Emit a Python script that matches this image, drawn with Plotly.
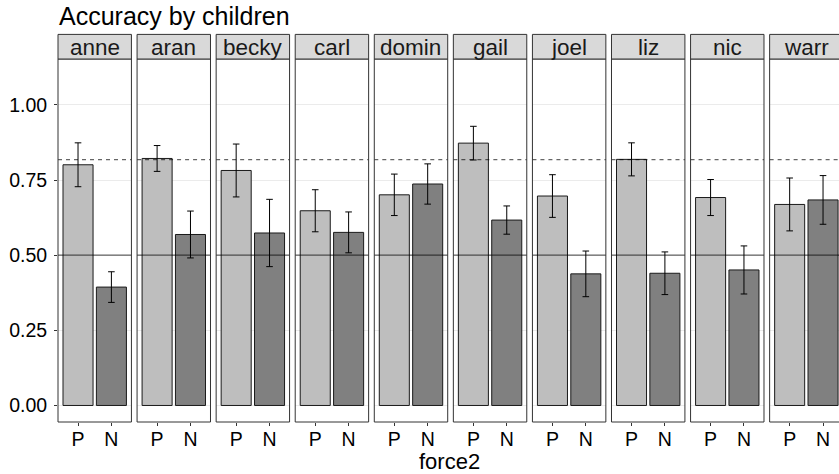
import plotly.graph_objects as go

children = ["anne", "aran", "becky", "carl", "domin", "gail", "joel", "liz", "nic", "warr"]
force_levels = ["P", "N"]
acc_P = [0.801, 0.822, 0.782, 0.648, 0.701, 0.873, 0.697, 0.819, 0.692, 0.669]
acc_N = [0.394, 0.569, 0.574, 0.576, 0.737, 0.617, 0.438, 0.440, 0.451, 0.684]
err_P = [0.073, 0.043, 0.088, 0.070, 0.069, 0.056, 0.071, 0.055, 0.060, 0.088]
err_N = [0.051, 0.078, 0.112, 0.068, 0.067, 0.047, 0.076, 0.071, 0.080, 0.081]
mean_line = 0.818
chance_line = 0.5
y_ticks = [0.0, 0.25, 0.5, 0.75, 1.0]
y_ticklabels = ["0.00", "0.25", "0.50", "0.75", "1.00"]

W, H = 839, 474
ML, MR, MT, MB = 58.3, 0.0, 59.3, 51.7
PW = W - ML - MR
PH = H - MT - MB
panel_w = 73.4
step = 79.04
px_per_unit = panel_w / 2.2
strip_h = 24.6
FONT = "Liberation Sans, Arial, sans-serif"

fill_colors = ["#BEBEBE", "#808080"]
border_col = "#333333"

fig = go.Figure()
shapes = []
annotations = []

for i, ch in enumerate(children):
    ax = "" if i == 0 else str(i + 1)
    x0px = i * step
    x1px = min(x0px + panel_w, PW)
    vis_w = x1px - x0px
    d0 = x0px / PW
    d1 = x1px / PW
    rng = [-0.6, -0.6 + vis_w / px_per_unit]
    fig.add_trace(go.Bar(
        x=force_levels, y=[acc_P[i], acc_N[i]],
        width=0.9,
        marker=dict(color=fill_colors, line=dict(color="#1a1a1a", width=1)),
        error_y=dict(type="data", array=[err_P[i], err_N[i]], visible=True,
                     color="black", thickness=1, width=3.3),
        xaxis="x" + ax, yaxis="y", showlegend=False, hoverinfo="skip",
    ))
    fig.layout["xaxis" + ax] = dict(
        domain=[d0, d1], range=rng, anchor="y", type="category",
        categoryorder="array", categoryarray=force_levels,
        showgrid=False, zeroline=False, showline=False,
        ticks="outside", ticklen=3, tickwidth=1, tickcolor=border_col,
        ticklabelstandoff=-3,
        tickfont=dict(size=19.5, color="black", family=FONT),
        fixedrange=True,
    )
    xd = "x" + ax + " domain"
    full_x1 = panel_w / vis_w
    shapes.append(dict(type="line", xref=xd, yref="y", x0=0, x1=1,
                       y0=chance_line, y1=chance_line,
                       line=dict(color="rgba(0,0,0,0.6)", width=1.2), layer="above"))
    shapes.append(dict(type="line", xref=xd, yref="y", x0=0, x1=1,
                       y0=mean_line, y1=mean_line,
                       line=dict(color="rgba(0,0,0,0.6)", width=1.2, dash="4px,4px"),
                       layer="above"))
    shapes.append(dict(type="rect", xref=xd, yref="paper", x0=0, x1=full_x1, y0=0, y1=1,
                       line=dict(color=border_col, width=1), fillcolor="rgba(0,0,0,0)",
                       layer="above"))
    shapes.append(dict(type="rect", xref=xd, yref="paper", x0=0, x1=full_x1,
                       y0=1, y1=1 + strip_h / PH,
                       line=dict(color=border_col, width=1), fillcolor="#D9D9D9",
                       layer="above"))
    annotations.append(dict(text=ch, xref=xd, yref="paper", x=0.5 * full_x1,
                            y=1 + strip_h / PH / 2 - 0.002, xanchor="center", yanchor="middle",
                            showarrow=False,
                            font=dict(size=22.5, color="#1a1a1a", family=FONT)))

annotations.append(dict(text="force2", xref="paper", yref="paper",
                        x=(450 - ML) / PW, y=-39 / PH, xanchor="center", yanchor="middle",
                        showarrow=False,
                        font=dict(size=22, color="black", family=FONT)))
annotations.append(dict(text="Accuracy by children", xref="paper", yref="paper",
                        x=-0.5 / PW, y=1 + (MT - 16.5) / PH, xanchor="left", yanchor="middle",
                        showarrow=False,
                        font=dict(size=25, color="black", family=FONT)))

fig.update_layout(
    width=W, height=H,
    margin=dict(l=ML, r=MR, t=MT, b=MB, pad=0),
    paper_bgcolor="white", plot_bgcolor="white",
    bargap=0.1,
    yaxis=dict(
        range=[-0.055, 1.153], anchor="x",
        tickvals=y_ticks, ticktext=y_ticklabels,
        showgrid=True, gridcolor="#EBEBEB", gridwidth=1,
        zeroline=False, showline=False,
        ticks="outside", ticklen=3, tickwidth=1, tickcolor=border_col,
        ticklabelstandoff=3,
        tickfont=dict(size=19.5, color="black", family=FONT),
        fixedrange=True,
    ),
    shapes=shapes,
    annotations=annotations,
)

fig.write_html("out.html", config={"displayModeBar": False},
               post_script="document.body.style.margin='0';document.body.style.overflow='hidden';")
